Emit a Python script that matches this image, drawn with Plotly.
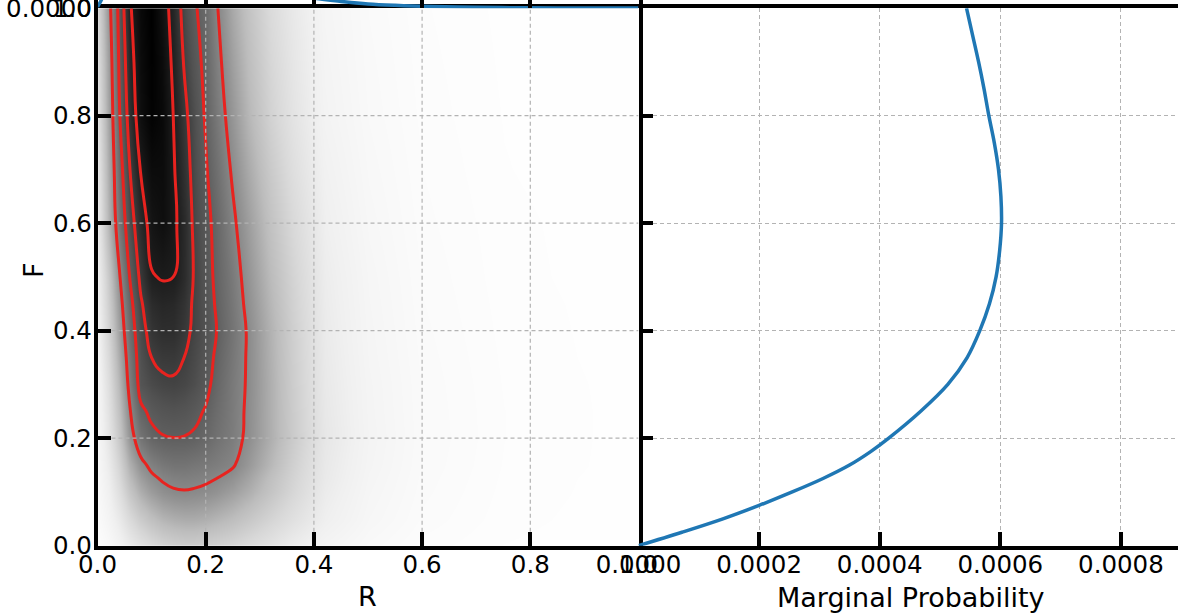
import plotly.graph_objects as go

# ---------------------------------------------------------------- data
# joint density p(R, F) on a grid (arbitrary units, 0..1)
R_grid = [0.00, 0.02, 0.04, 0.06, 0.08, 0.10, 0.12, 0.14, 0.16, 0.18, 0.20,
          0.22, 0.25, 0.28, 0.32, 0.36, 0.42, 0.50, 0.60, 0.75, 1.00]
F_grid = [0.00, 0.05, 0.10, 0.125, 0.15, 0.20, 0.25, 0.30, 0.35, 0.40, 0.45,
          0.50, 0.60, 0.70, 0.80, 0.90, 1.00]

row_f000 = [0.02, 0.05, 0.10, 0.15, 0.20, 0.24, 0.27, 0.29, 0.30, 0.30, 0.29, 0.28, 0.26, 0.23, 0.19, 0.14, 0.09, 0.05, 0.025, 0.012, 0.005]
row_f005 = [0.04, 0.09, 0.16, 0.24, 0.31, 0.36, 0.40, 0.42, 0.43, 0.43, 0.42, 0.40, 0.37, 0.33, 0.27, 0.21, 0.13, 0.07, 0.035, 0.016, 0.006]
row_f010 = [0.05, 0.12, 0.22, 0.33, 0.42, 0.48, 0.52, 0.54, 0.545, 0.54, 0.53, 0.51, 0.47, 0.42, 0.34, 0.26, 0.15, 0.08, 0.04, 0.018, 0.007]
row_f012 = [0.055, 0.135, 0.25, 0.375, 0.47, 0.53, 0.56, 0.575, 0.58, 0.575, 0.565, 0.55, 0.515, 0.455, 0.36, 0.275, 0.16, 0.085, 0.042, 0.019, 0.007]
row_f015 = [0.06, 0.15, 0.275, 0.415, 0.52, 0.575, 0.605, 0.62, 0.62, 0.61, 0.60, 0.585, 0.56, 0.49, 0.39, 0.29, 0.165, 0.09, 0.044, 0.020, 0.008]
row_f020 = [0.07, 0.18, 0.33, 0.50, 0.62, 0.675, 0.694, 0.699, 0.697, 0.688, 0.665, 0.63, 0.59, 0.525, 0.42, 0.315, 0.175, 0.095, 0.046, 0.021, 0.008]
row_f025 = [0.075, 0.20, 0.365, 0.543, 0.68, 0.72, 0.738, 0.745, 0.738, 0.72, 0.693, 0.65, 0.595, 0.53, 0.42, 0.31, 0.17, 0.092, 0.045, 0.021, 0.008]
row_f030 = [0.08, 0.22, 0.40, 0.585, 0.74, 0.77, 0.785, 0.79, 0.78, 0.76, 0.725, 0.67, 0.60, 0.535, 0.42, 0.305, 0.165, 0.09, 0.044, 0.020, 0.008]
row_f035 = [0.09, 0.245, 0.435, 0.61, 0.755, 0.80, 0.818, 0.82, 0.80, 0.773, 0.738, 0.685, 0.61, 0.535, 0.415, 0.30, 0.16, 0.086, 0.042, 0.019, 0.007]
row_f040 = [0.10, 0.27, 0.47, 0.64, 0.77, 0.83, 0.85, 0.85, 0.82, 0.785, 0.75, 0.70, 0.62, 0.535, 0.41, 0.295, 0.155, 0.083, 0.040, 0.018, 0.007]
row_f045 = [0.11, 0.295, 0.50, 0.67, 0.79, 0.855, 0.87, 0.865, 0.835, 0.785, 0.745, 0.69, 0.61, 0.52, 0.395, 0.285, 0.15, 0.08, 0.038, 0.017, 0.007]
row_f050 = [0.12, 0.32, 0.535, 0.705, 0.82, 0.895, 0.905, 0.90, 0.855, 0.79, 0.74, 0.68, 0.60, 0.505, 0.38, 0.275, 0.145, 0.077, 0.036, 0.016, 0.006]
row_f060 = [0.15, 0.40, 0.62, 0.76, 0.86, 0.93, 0.95, 0.92, 0.86, 0.78, 0.73, 0.67, 0.57, 0.475, 0.35, 0.25, 0.13, 0.068, 0.032, 0.015, 0.006]
row_f070 = [0.175, 0.425, 0.655, 0.80, 0.905, 0.96, 0.96, 0.91, 0.84, 0.77, 0.71, 0.64, 0.535, 0.435, 0.315, 0.22, 0.115, 0.06, 0.029, 0.013, 0.005]
row_f080 = [0.20, 0.45, 0.69, 0.84, 0.95, 0.99, 0.97, 0.90, 0.82, 0.76, 0.69, 0.61, 0.50, 0.395, 0.28, 0.195, 0.10, 0.053, 0.026, 0.012, 0.005]
row_f090 = [0.22, 0.47, 0.71, 0.865, 0.96, 0.995, 0.96, 0.885, 0.795, 0.735, 0.675, 0.585, 0.47, 0.37, 0.26, 0.18, 0.092, 0.049, 0.024, 0.011, 0.004]
row_f100 = [0.25, 0.50, 0.73, 0.89, 0.97, 1.00, 0.94, 0.87, 0.77, 0.71, 0.66, 0.56, 0.44, 0.345, 0.24, 0.165, 0.085, 0.045, 0.022, 0.010, 0.004]

density = [row_f000, row_f005, row_f010, row_f012, row_f015, row_f020,
           row_f025, row_f030, row_f035, row_f040, row_f045, row_f050,
           row_f060, row_f070, row_f080, row_f090, row_f100]

contour_levels = [0.55, 0.70, 0.80, 0.90]

# marginal probability of F
F_marg = [0.0, 0.025, 0.05, 0.075, 0.1, 0.125, 0.15, 0.175, 0.2, 0.25, 0.3,
          0.35, 0.4, 0.45, 0.5, 0.55, 0.6, 0.65, 0.7, 0.75, 0.8, 0.85, 0.9,
          0.95, 1.0]
P_F = [0.0, 0.72e-4, 1.40e-4, 2.0e-4, 2.55e-4, 3.06e-4, 3.5e-4, 3.85e-4,
       4.15e-4, 4.68e-4, 5.13e-4, 5.45e-4, 5.66e-4, 5.82e-4, 5.93e-4, 5.99e-4,
       6.02e-4, 6.01e-4, 5.97e-4, 5.9e-4, 5.81e-4, 5.73e-4, 5.64e-4,
       5.54e-4, 5.44e-4]

# marginal probability of R
R_marg = [0.0, 0.005, 0.01, 0.02, 0.05, 0.1, 0.15, 0.2, 0.25, 0.3, 0.35,
          0.4, 0.45, 0.5, 0.55, 0.6, 0.7, 0.8, 0.9, 1.0]
P_R = [1.5e-5, 6e-5, 12e-5, 30e-5, 90e-5, 150e-5, 140e-5, 100e-5, 55e-5,
       28e-5, 15e-5, 10e-5, 6.8e-5, 4.3e-5, 2.9e-5, 2.0e-5, 0.9e-5, 0.4e-5,
       0.2e-5, 0.1e-5]

R_ticks = [0.0, 0.2, 0.4, 0.6, 0.8, 1.0]
F_ticks = [0.0, 0.2, 0.4, 0.6, 0.8, 1.0]
P_ticks = [0.0, 0.0002, 0.0004, 0.0006, 0.0008]
grid_vals = [0.2, 0.4, 0.6, 0.8]

# ---------------------------------------------------------------- layout geometry (px)
W, H = 1178, 613
X0, X1, X2 = 97.5, 638.5, 1178.0      # left edge, panel split, right edge
Y_BOT, Y_TOP = 545.7, 8.2            # F = 0 and F = 1
PX_PER_P = 120.6 / 0.0002            # right panel scale

def fx(px):
    return px / W

def fy(px):
    return 1 - px / H

greys = [[0.0, '#ffffff'], [0.125, '#f0f0f0'], [0.25, '#d9d9d9'],
         [0.375, '#bdbdbd'], [0.5, '#969696'], [0.625, '#737373'],
         [0.75, '#525252'], [0.875, '#252525'], [1.0, '#000000']]

FONT = 'DejaVu Sans'
TICK_FONT = dict(family=FONT, size=24.5, color='black')
LABEL_FONT = dict(family=FONT, size=27, color='black')
GRID_COLOR = '#b3b3b3'
GRID_DASH = '4px,3px'

fig = go.Figure()

# joint density image
fig.add_trace(go.Heatmap(
    x=R_grid, y=F_grid, z=density, zsmooth='best', colorscale=greys,
    zmin=0, zmax=1, showscale=False, hoverinfo='skip',
    xaxis='x', yaxis='y'))

# dashed grid on top of the image
gx, gy = [], []
for v in grid_vals:
    gx += [v, v, None, 0, 1, None]
    gy += [0, 1, None, v, v, None]
fig.add_trace(go.Scatter(
    x=gx, y=gy, mode='lines', hoverinfo='skip', showlegend=False,
    line=dict(color=GRID_COLOR, width=1.2, dash=GRID_DASH),
    xaxis='x', yaxis='y'))

# credible contours
for lev in contour_levels:
    fig.add_trace(go.Contour(
        x=R_grid, y=F_grid, z=density, autocontour=False,
        contours=dict(start=lev, end=lev, size=1, coloring='none',
                      showlines=True),
        line=dict(color='#e8231f', width=3, smoothing=1.3),
        showscale=False, hoverinfo='skip', xaxis='x', yaxis='y'))

# marginal of F (right)
fig.add_trace(go.Scatter(
    x=P_F, y=F_marg, mode='lines', line=dict(color='#1f77b4', width=3.5),
    line_shape='spline', hoverinfo='skip', showlegend=False,
    xaxis='x2', yaxis='y2'))

# marginal of R (top)
fig.add_trace(go.Scatter(
    x=R_marg, y=P_R, mode='lines', line=dict(color='#1f77b4', width=3.5),
    line_shape='spline', hoverinfo='skip', showlegend=False,
    xaxis='x3', yaxis='y3'))

axis_common = dict(linecolor='black', linewidth=3.5,
                   ticks='inside', ticklen=14, tickwidth=3.5, tickcolor='black',
                   tickfont=TICK_FONT, zeroline=False,
                   layer='above traces', automargin=False,
                   ticklabeloverflow='allow')

fig.update_layout(
    width=W, height=H, margin=dict(l=0, r=0, t=0, b=0, pad=0),
    autosize=False,
    paper_bgcolor='white', plot_bgcolor='white', showlegend=False,
    # joint panel: its four spines (right one is the shared divider)
    xaxis=dict(domain=[fx(X0), fx(X1)], range=[0, 1], anchor='y',
               tickvals=R_ticks, tickformat='.1f', showgrid=False,
               showline=True, mirror=True,
               ticklabelstandoff=-6, **axis_common),
    yaxis=dict(domain=[fy(Y_BOT), fy(Y_TOP)], range=[0, 1], anchor='x',
               tickvals=F_ticks, tickformat='.1f', showgrid=False,
               showline=True, mirror=True,
               ticklabelstandoff=-3, **axis_common),
    # F marginal panel
    xaxis2=dict(domain=[fx(X1), 1], range=[0, (X2 - X1) / PX_PER_P],
                anchor='y2', tickvals=P_ticks, tickformat='.4f',
                showgrid=True, gridcolor=GRID_COLOR, gridwidth=1.2,
                griddash=GRID_DASH, showline=True, mirror=True,
                ticklabelstandoff=-6, **axis_common),
    yaxis2=dict(domain=[fy(Y_BOT), fy(Y_TOP)], range=[0, 1], anchor='x2',
                tickvals=F_ticks, showticklabels=False,
                showgrid=True, gridcolor=GRID_COLOR, gridwidth=1.2,
                griddash=GRID_DASH, showline=False, **axis_common),
    # R marginal panel above the joint panel
    xaxis3=dict(domain=[fx(X0), fx(X1)], range=[0, 1], anchor='y3',
                tickvals=grid_vals, showticklabels=False, showgrid=False,
                showline=False, **axis_common),
    yaxis3=dict(domain=[fy(Y_TOP), 1], range=[0, Y_TOP * 1e-5], anchor='x3',
                tickvals=[0.0], ticktext=['0.0000'], showgrid=False,
                showline=True, mirror=True,
                ticklabelstandoff=-3, **axis_common),
    annotations=[
        dict(text='R', x=fx(367), y=fy(596), xref='paper', yref='paper',
             showarrow=False, font=LABEL_FONT, xanchor='center',
             yanchor='middle'),
        dict(text='Marginal Probability', x=fx(911), y=fy(597),
             xref='paper', yref='paper', showarrow=False, font=LABEL_FONT,
             xanchor='center', yanchor='middle'),
        dict(text='F', x=fx(33), y=fy(270), xref='paper', yref='paper',
             showarrow=False, font=LABEL_FONT, textangle=-90,
             xanchor='center', yanchor='middle'),
        dict(text='Marginal Probability', x=fx(877), y=fy(-17),
             xref='paper', yref='paper', showarrow=False, font=LABEL_FONT,
             xanchor='center', yanchor='middle'),
    ],
)

fig.write_html('out.html', config={'displayModeBar': False})
